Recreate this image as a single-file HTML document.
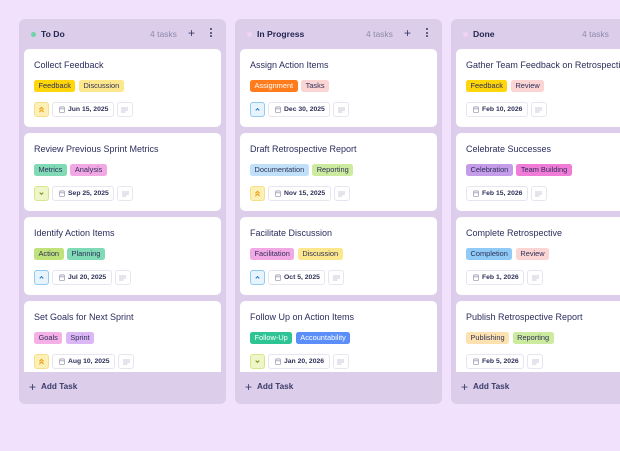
<!DOCTYPE html>
<html>
<head>
<meta charset="utf-8">
<style>
*{box-sizing:border-box;margin:0;padding:0}
html,body{width:620px;height:451px;overflow:hidden;background:#f2e1fd;font-family:"Liberation Sans",sans-serif;color:#2b2d5c}
.col{position:absolute;top:19px;width:207px;height:385px;background:#dccdeb;border-radius:6px}
.dot{position:absolute;left:12px;top:13px;width:5px;height:5px;border-radius:50%}
.ctitle{position:absolute;left:22px;top:9px;font-size:8.6px;font-weight:bold;color:#24264f;line-height:12px}
.count{position:absolute;left:131px;top:9px;font-size:8.5px;color:#8e8aa9;line-height:12px}
.plus{position:absolute;left:169px;top:7px;font-size:12px;color:#3a3c66;line-height:14px}
.menu{position:absolute;left:191px;top:9px;width:3px}
.menu i{display:block;width:2px;height:2px;background:#3a3c66;border-radius:50%;margin-bottom:1.5px}
.list{position:absolute;left:5px;top:30px;width:197px;height:323px;overflow:hidden}
.card{position:absolute;left:0;width:197px;height:78px;background:#fff;border-radius:5px}
.t{position:absolute;left:10px;top:10px;font-size:9px;line-height:12px;color:#2b2d5c;white-space:nowrap}
.tags{position:absolute;left:10px;top:31px;display:flex;gap:3.5px}
.tag{height:12px;line-height:12px;font-size:7.4px;padding:0 4.5px;border-radius:2.5px;color:#2e3058;white-space:nowrap}
.row{position:absolute;left:10px;top:53px;display:flex;gap:3px;height:15px}
.pr{width:15px;height:15px;border-radius:3px;border:1px solid;display:flex;align-items:center;justify-content:center}
.date{height:15px;border:1px solid #e7e5f0;border-radius:3px;display:flex;align-items:center;padding:0 4.5px 0 5.5px;gap:3.5px;font-size:6.8px;font-weight:bold;color:#2e3058;white-space:nowrap}
.note{width:16px;height:15px;border:1px solid #e7e5f0;border-radius:3px;display:flex;align-items:center;justify-content:center}
.add{position:absolute;left:10px;top:362px;font-size:8.2px;font-weight:bold;color:#3a3c68;line-height:12px;display:flex;align-items:center;gap:5px}
.hi{background:#fdf0b6;border-color:#f6df8c}
.lo{background:#eef6c8;border-color:#d3e88c}
.md{background:#e8f4fd;border-color:#8fcaf3}
</style>
</head>
<body>

<!-- Column 1 -->
<div class="col" style="left:19px">
  <div class="dot" style="background:#6fd3a6"></div>
  <div class="ctitle">To Do</div>
  <div class="count">4 tasks</div>
  <div class="plus">+</div>
  <div class="menu"><i></i><i></i><i></i></div>
  <div class="list">
    <div class="card" style="top:0">
      <div class="t">Collect Feedback</div>
      <div class="tags"><span class="tag" style="background:#ffd60a">Feedback</span><span class="tag" style="background:#fde78c">Discussion</span></div>
      <div class="row">
        <div class="pr hi"><svg width="7" height="7" viewBox="0 0 8 8"><path d="M1.5 4 L4 1.5 L6.5 4 M1.5 7 L4 4.5 L6.5 7" stroke="#e8a21c" stroke-width="1.3" fill="none"/></svg></div>
        <div class="date"><svg width="6" height="7" viewBox="0 0 6 7"><rect x="0.5" y="1" width="5" height="5.5" rx="0.8" stroke="#a3a0b8" stroke-width="0.8" fill="none"/><path d="M0.5 2.8 H5.5 M2 0.2 V1.5 M4 0.2 V1.5" stroke="#a3a0b8" stroke-width="0.8"/></svg>Jun 15, 2025</div>
        <div class="note"><svg width="7" height="6" viewBox="0 0 7 6"><path d="M0 1 H7 M0 3 H7 M0 5 H4.5" stroke="#bab7cd" stroke-width="0.8"/></svg></div>
      </div>
    </div>
    <div class="card" style="top:84px">
      <div class="t">Review Previous Sprint Metrics</div>
      <div class="tags"><span class="tag" style="background:#7fdab5">Metrics</span><span class="tag" style="background:#f3a8e6">Analysis</span></div>
      <div class="row">
        <div class="pr lo"><svg width="7" height="7" viewBox="0 0 8 8"><path d="M2 3 L4 5 L6 3" stroke="#7a961c" stroke-width="1.3" fill="none"/></svg></div>
        <div class="date"><svg width="6" height="7" viewBox="0 0 6 7"><rect x="0.5" y="1" width="5" height="5.5" rx="0.8" stroke="#a3a0b8" stroke-width="0.8" fill="none"/><path d="M0.5 2.8 H5.5 M2 0.2 V1.5 M4 0.2 V1.5" stroke="#a3a0b8" stroke-width="0.8"/></svg>Sep 25, 2025</div>
        <div class="note"><svg width="7" height="6" viewBox="0 0 7 6"><path d="M0 1 H7 M0 3 H7 M0 5 H4.5" stroke="#bab7cd" stroke-width="0.8"/></svg></div>
      </div>
    </div>
    <div class="card" style="top:168px">
      <div class="t">Identify Action Items</div>
      <div class="tags"><span class="tag" style="background:#bfe27a">Action</span><span class="tag" style="background:#7fdab5">Planning</span></div>
      <div class="row">
        <div class="pr md"><svg width="7" height="7" viewBox="0 0 8 8"><path d="M2 5 L4 3 L6 5" stroke="#2b7cc4" stroke-width="1.3" fill="none"/></svg></div>
        <div class="date"><svg width="6" height="7" viewBox="0 0 6 7"><rect x="0.5" y="1" width="5" height="5.5" rx="0.8" stroke="#a3a0b8" stroke-width="0.8" fill="none"/><path d="M0.5 2.8 H5.5 M2 0.2 V1.5 M4 0.2 V1.5" stroke="#a3a0b8" stroke-width="0.8"/></svg>Jul 20, 2025</div>
        <div class="note"><svg width="7" height="6" viewBox="0 0 7 6"><path d="M0 1 H7 M0 3 H7 M0 5 H4.5" stroke="#bab7cd" stroke-width="0.8"/></svg></div>
      </div>
    </div>
    <div class="card" style="top:252px">
      <div class="t">Set Goals for Next Sprint</div>
      <div class="tags"><span class="tag" style="background:#f5b0e8">Goals</span><span class="tag" style="background:#dcb7f6">Sprint</span></div>
      <div class="row">
        <div class="pr hi"><svg width="7" height="7" viewBox="0 0 8 8"><path d="M1.5 4 L4 1.5 L6.5 4 M1.5 7 L4 4.5 L6.5 7" stroke="#e8a21c" stroke-width="1.3" fill="none"/></svg></div>
        <div class="date"><svg width="6" height="7" viewBox="0 0 6 7"><rect x="0.5" y="1" width="5" height="5.5" rx="0.8" stroke="#a3a0b8" stroke-width="0.8" fill="none"/><path d="M0.5 2.8 H5.5 M2 0.2 V1.5 M4 0.2 V1.5" stroke="#a3a0b8" stroke-width="0.8"/></svg>Aug 10, 2025</div>
        <div class="note"><svg width="7" height="6" viewBox="0 0 7 6"><path d="M0 1 H7 M0 3 H7 M0 5 H4.5" stroke="#bab7cd" stroke-width="0.8"/></svg></div>
      </div>
    </div>
  </div>
  <div class="add"><span style="font-size:12px;font-weight:normal">+</span>Add Task</div>
</div>

<!-- Column 2 -->
<div class="col" style="left:235px">
  <div class="dot" style="background:#f0d3f6"></div>
  <div class="ctitle">In Progress</div>
  <div class="count">4 tasks</div>
  <div class="plus">+</div>
  <div class="menu"><i></i><i></i><i></i></div>
  <div class="list">
    <div class="card" style="top:0">
      <div class="t">Assign Action Items</div>
      <div class="tags"><span class="tag" style="background:#ff7b1c;color:#fff">Assignment</span><span class="tag" style="background:#fbd4d4">Tasks</span></div>
      <div class="row">
        <div class="pr md"><svg width="7" height="7" viewBox="0 0 8 8"><path d="M2 5 L4 3 L6 5" stroke="#2b7cc4" stroke-width="1.3" fill="none"/></svg></div>
        <div class="date"><svg width="6" height="7" viewBox="0 0 6 7"><rect x="0.5" y="1" width="5" height="5.5" rx="0.8" stroke="#a3a0b8" stroke-width="0.8" fill="none"/><path d="M0.5 2.8 H5.5 M2 0.2 V1.5 M4 0.2 V1.5" stroke="#a3a0b8" stroke-width="0.8"/></svg>Dec 30, 2025</div>
        <div class="note"><svg width="7" height="6" viewBox="0 0 7 6"><path d="M0 1 H7 M0 3 H7 M0 5 H4.5" stroke="#bab7cd" stroke-width="0.8"/></svg></div>
      </div>
    </div>
    <div class="card" style="top:84px">
      <div class="t">Draft Retrospective Report</div>
      <div class="tags"><span class="tag" style="background:#c0e0f9">Documentation</span><span class="tag" style="background:#cdeb9f">Reporting</span></div>
      <div class="row">
        <div class="pr hi"><svg width="7" height="7" viewBox="0 0 8 8"><path d="M1.5 4 L4 1.5 L6.5 4 M1.5 7 L4 4.5 L6.5 7" stroke="#e8a21c" stroke-width="1.3" fill="none"/></svg></div>
        <div class="date"><svg width="6" height="7" viewBox="0 0 6 7"><rect x="0.5" y="1" width="5" height="5.5" rx="0.8" stroke="#a3a0b8" stroke-width="0.8" fill="none"/><path d="M0.5 2.8 H5.5 M2 0.2 V1.5 M4 0.2 V1.5" stroke="#a3a0b8" stroke-width="0.8"/></svg>Nov 15, 2025</div>
        <div class="note"><svg width="7" height="6" viewBox="0 0 7 6"><path d="M0 1 H7 M0 3 H7 M0 5 H4.5" stroke="#bab7cd" stroke-width="0.8"/></svg></div>
      </div>
    </div>
    <div class="card" style="top:168px">
      <div class="t">Facilitate Discussion</div>
      <div class="tags"><span class="tag" style="background:#f3a8e6">Facilitation</span><span class="tag" style="background:#fde78c">Discussion</span></div>
      <div class="row">
        <div class="pr md"><svg width="7" height="7" viewBox="0 0 8 8"><path d="M2 5 L4 3 L6 5" stroke="#2b7cc4" stroke-width="1.3" fill="none"/></svg></div>
        <div class="date"><svg width="6" height="7" viewBox="0 0 6 7"><rect x="0.5" y="1" width="5" height="5.5" rx="0.8" stroke="#a3a0b8" stroke-width="0.8" fill="none"/><path d="M0.5 2.8 H5.5 M2 0.2 V1.5 M4 0.2 V1.5" stroke="#a3a0b8" stroke-width="0.8"/></svg>Oct 5, 2025</div>
        <div class="note"><svg width="7" height="6" viewBox="0 0 7 6"><path d="M0 1 H7 M0 3 H7 M0 5 H4.5" stroke="#bab7cd" stroke-width="0.8"/></svg></div>
      </div>
    </div>
    <div class="card" style="top:252px">
      <div class="t">Follow Up on Action Items</div>
      <div class="tags"><span class="tag" style="background:#2ec493;color:#fff">Follow-Up</span><span class="tag" style="background:#5b8ef8;color:#fff">Accountability</span></div>
      <div class="row">
        <div class="pr lo"><svg width="7" height="7" viewBox="0 0 8 8"><path d="M2 3 L4 5 L6 3" stroke="#7a961c" stroke-width="1.3" fill="none"/></svg></div>
        <div class="date"><svg width="6" height="7" viewBox="0 0 6 7"><rect x="0.5" y="1" width="5" height="5.5" rx="0.8" stroke="#a3a0b8" stroke-width="0.8" fill="none"/><path d="M0.5 2.8 H5.5 M2 0.2 V1.5 M4 0.2 V1.5" stroke="#a3a0b8" stroke-width="0.8"/></svg>Jan 20, 2026</div>
        <div class="note"><svg width="7" height="6" viewBox="0 0 7 6"><path d="M0 1 H7 M0 3 H7 M0 5 H4.5" stroke="#bab7cd" stroke-width="0.8"/></svg></div>
      </div>
    </div>
  </div>
  <div class="add"><span style="font-size:12px;font-weight:normal">+</span>Add Task</div>
</div>

<!-- Column 3 -->
<div class="col" style="left:451px">
  <div class="dot" style="background:#f0d3f6"></div>
  <div class="ctitle">Done</div>
  <div class="count">4 tasks</div>
  <div class="plus">+</div>
  <div class="menu"><i></i><i></i><i></i></div>
  <div class="list">
    <div class="card" style="top:0">
      <div class="t">Gather Team Feedback on Retrospective</div>
      <div class="tags"><span class="tag" style="background:#ffd60a">Feedback</span><span class="tag" style="background:#fbd4d4">Review</span></div>
      <div class="row">
        <div class="date"><svg width="6" height="7" viewBox="0 0 6 7"><rect x="0.5" y="1" width="5" height="5.5" rx="0.8" stroke="#a3a0b8" stroke-width="0.8" fill="none"/><path d="M0.5 2.8 H5.5 M2 0.2 V1.5 M4 0.2 V1.5" stroke="#a3a0b8" stroke-width="0.8"/></svg>Feb 10, 2026</div>
        <div class="note"><svg width="7" height="6" viewBox="0 0 7 6"><path d="M0 1 H7 M0 3 H7 M0 5 H4.5" stroke="#bab7cd" stroke-width="0.8"/></svg></div>
      </div>
    </div>
    <div class="card" style="top:84px">
      <div class="t">Celebrate Successes</div>
      <div class="tags"><span class="tag" style="background:#c59cea">Celebration</span><span class="tag" style="background:#f07cd8">Team Building</span></div>
      <div class="row">
        <div class="date"><svg width="6" height="7" viewBox="0 0 6 7"><rect x="0.5" y="1" width="5" height="5.5" rx="0.8" stroke="#a3a0b8" stroke-width="0.8" fill="none"/><path d="M0.5 2.8 H5.5 M2 0.2 V1.5 M4 0.2 V1.5" stroke="#a3a0b8" stroke-width="0.8"/></svg>Feb 15, 2026</div>
        <div class="note"><svg width="7" height="6" viewBox="0 0 7 6"><path d="M0 1 H7 M0 3 H7 M0 5 H4.5" stroke="#bab7cd" stroke-width="0.8"/></svg></div>
      </div>
    </div>
    <div class="card" style="top:168px">
      <div class="t">Complete Retrospective</div>
      <div class="tags"><span class="tag" style="background:#8fcbf6">Completion</span><span class="tag" style="background:#fbd4d4">Review</span></div>
      <div class="row">
        <div class="date"><svg width="6" height="7" viewBox="0 0 6 7"><rect x="0.5" y="1" width="5" height="5.5" rx="0.8" stroke="#a3a0b8" stroke-width="0.8" fill="none"/><path d="M0.5 2.8 H5.5 M2 0.2 V1.5 M4 0.2 V1.5" stroke="#a3a0b8" stroke-width="0.8"/></svg>Feb 1, 2026</div>
        <div class="note"><svg width="7" height="6" viewBox="0 0 7 6"><path d="M0 1 H7 M0 3 H7 M0 5 H4.5" stroke="#bab7cd" stroke-width="0.8"/></svg></div>
      </div>
    </div>
    <div class="card" style="top:252px">
      <div class="t">Publish Retrospective Report</div>
      <div class="tags"><span class="tag" style="background:#fde2b0">Publishing</span><span class="tag" style="background:#cdeb9f">Reporting</span></div>
      <div class="row">
        <div class="date"><svg width="6" height="7" viewBox="0 0 6 7"><rect x="0.5" y="1" width="5" height="5.5" rx="0.8" stroke="#a3a0b8" stroke-width="0.8" fill="none"/><path d="M0.5 2.8 H5.5 M2 0.2 V1.5 M4 0.2 V1.5" stroke="#a3a0b8" stroke-width="0.8"/></svg>Feb 5, 2026</div>
        <div class="note"><svg width="7" height="6" viewBox="0 0 7 6"><path d="M0 1 H7 M0 3 H7 M0 5 H4.5" stroke="#bab7cd" stroke-width="0.8"/></svg></div>
      </div>
    </div>
  </div>
  <div class="add"><span style="font-size:12px;font-weight:normal">+</span>Add Task</div>
</div>

</body>
</html>
